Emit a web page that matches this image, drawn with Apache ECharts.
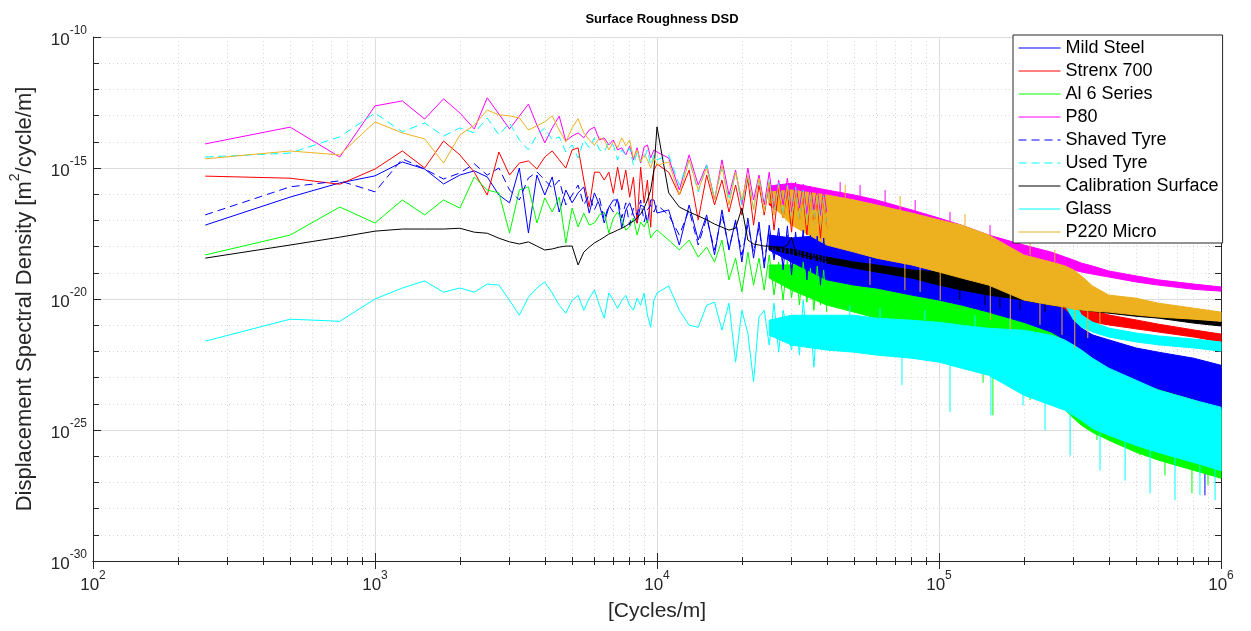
<!DOCTYPE html>
<html>
<head>
<meta charset="utf-8">
<script src="https://cdn.jsdelivr.net/npm/echarts@6/dist/echarts.min.js"></script>
<style>
  html, body { margin: 0; padding: 0; background: #ffffff; }
  #chart { width: 1251px; height: 631px; }
</style>
</head>
<body>
<div id="chart"></div>
<script>
// ---------------------------------------------------------------
// Surface roughness displacement spectral density (DSD) curves.
// All DSD values below are stored as log10(m^2/cycle/m).
// ---------------------------------------------------------------

// Spatial frequency grid of the traced curves (cycles/m)
const traceFreq = [250, 500, 750, 1000, 1250, 1500, 1750, 2000, 2250, 2500,
  2750, 3000, 3250, 3500, 3750, 4000, 4250, 4500, 4750, 5000,
  5250, 5500, 5750, 6000, 6250, 6500, 6750, 7000, 7250, 7500,
  7750, 8000, 8250, 8500, 8750, 9000, 9250, 9500, 9750, 10000,
  11000, 12000, 13000, 14000, 15000, 16000, 17000, 18000, 19000, 20000,
  21000, 22000, 23000, 24000, 25000, 26000, 27000, 28000, 29000, 30000,
  31000, 32000, 33000, 34000, 35000, 36000, 37000, 38000, 39000, 40000];

// Frequencies at which the dense high-frequency scatter band is bounded
const bandFreq = [25000, 30000, 40000, 50000, 60000, 80000, 100000, 120000, 150000, 200000, 250000,
  280000, 300000, 320000, 350000, 400000, 500000, 600000, 800000, 1000000];

// Axis decades (exponents)
const xTickExp = [2, 3, 4, 5, 6];
const yTickExp = [-30, -25, -20, -15, -10];

// ---- Mild Steel ----
const mildSteelTrace = [-17.18, -16.11, -15.57, -15.30, -14.77, -15.04, -15.61, -15.27, -15.11, -15.34,
  -16.03, -16.33, -15.00, -17.48, -15.27, -16.03, -15.34, -16.68, -15.84, -16.33,
  -15.95, -15.72, -16.72, -15.95, -16.41, -17.10, -16.49, -16.22, -16.22, -17.29,
  -16.60, -16.33, -16.79, -17.10, -16.41, -16.49, -17.10, -16.22, -16.22, -16.72,
  -16.60, -17.94, -16.41, -17.75, -16.79, -18.32, -16.60, -18.13, -16.98, -18.59,
  -16.91, -18.44, -17.06, -18.82, -17.18, -18.51, -17.29, -18.89, -17.21, -19.08,
  -17.44, -18.70, -17.37, -19.27, -17.56, -18.89, -17.60, -19.47, -17.67, -19.08];
const mildSteelHi = [-17.56, -17.67, -17.56, -17.67, -17.82, -18.13, -18.44, -18.70, -19.08, -19.66, -20.04,
  -20.42, -20.80, -21.18, -21.37, -21.56, -21.87, -22.03, -22.26, -22.53];
const mildSteelLo = [-18.13, -18.59, -19.47, -19.66, -19.77, -20.04, -20.23, -20.42, -20.73, -21.18, -21.56,
  -21.95, -22.33, -22.64, -22.91, -23.17, -23.48, -23.67, -23.94, -24.24];
const mildSteelSpikes = [[56900, -19.66, -20.80], [92900, -20.04, -21.37], [164400, -20.61, -21.95],
  [237700, -21.18, -23.28], [308000, -21.75, -23.86], [438200, -22.90, -24.62],
  [716000, -23.67, -25.00], [877000, -24.24, -27.49]];

// ---- Strenx 700 ----
const strenxTrace = [-15.31, -15.39, -15.62, -15.04, -14.35, -15.00, -13.97, -14.50, -15.16, -16.03,
  -14.39, -15.27, -14.81, -14.73, -15.04, -14.58, -14.35, -14.69, -15.00, -14.31,
  -14.23, -15.46, -16.49, -15.16, -15.16, -15.46, -15.16, -15.96, -14.97, -15.84,
  -15.08, -16.11, -15.35, -17.11, -14.97, -16.34, -15.46, -17.26, -15.08, -14.85,
  -15.16, -16.03, -15.08, -16.98, -15.27, -16.41, -15.46, -16.68, -15.65, -16.80,
  -15.39, -17.18, -15.65, -16.80, -15.58, -17.37, -15.77, -16.91, -15.84, -17.45,
  -15.84, -16.98, -16.03, -17.56, -15.96, -17.18, -16.15, -17.68, -16.07, -17.30];
const strenxHi = [-16.03, -16.03, -16.03, -16.22, -16.41, -16.72, -17.07, -17.30, -17.68, -18.13, -18.59,
  -18.89, -19.47, -20.04, -20.42, -20.61, -20.80, -20.96, -21.18, -21.34];
const strenxLo = [-16.41, -16.98, -17.75, -18.06, -18.21, -18.51, -18.82, -19.09, -19.40, -19.85, -20.23,
  -20.42, -20.65, -20.80, -20.88, -20.99, -21.14, -21.26, -21.45, -21.64];

// ---- Al 6 Series ----
const alTrace = [-18.32, -17.56, -16.49, -17.10, -16.22, -16.79, -16.22, -16.53, -15.34, -15.84,
  -15.95, -17.48, -15.84, -15.72, -17.10, -16.14, -16.68, -16.11, -17.87, -16.53,
  -17.25, -16.72, -17.18, -17.10, -16.79, -16.68, -17.48, -16.91, -16.68, -16.98,
  -17.37, -17.25, -16.91, -17.56, -17.06, -17.25, -16.98, -17.67, -17.48, -17.37,
  -17.75, -18.13, -17.75, -18.40, -18.02, -18.59, -17.75, -19.27, -18.44, -19.73,
  -18.21, -19.47, -18.44, -19.66, -18.32, -19.85, -18.59, -20.04, -18.51, -19.96,
  -18.70, -20.23, -18.59, -20.12, -18.82, -20.43, -18.74, -20.23, -18.89, -20.50];
const alHi = [-18.70, -18.70, -18.32, -18.51, -18.70, -18.97, -19.27, -19.58, -19.96, -20.61, -21.18,
  -21.56, -21.87, -22.14, -22.41, -22.71, -23.17, -23.47, -23.86, -24.24];
const alLo = [-19.20, -19.66, -20.23, -20.50, -20.73, -21.00, -21.37, -21.75, -22.33, -23.28, -23.86,
  -24.24, -24.55, -24.82, -25.09, -25.39, -25.85, -26.15, -26.54, -26.84];
const alSpikes = [[61800, -20.04, -21.56], [103300, -20.80, -22.44], [143300, -21.56, -23.20],
  [155300, -21.75, -24.44], [210400, -22.33, -23.86], [363300, -23.09, -25.38],
  [516000, -23.86, -25.97], [632700, -24.24, -26.73], [788800, -24.62, -27.41],
  [899200, -24.82, -27.11]];

// ---- P80 ----
const p80Trace = [-14.08, -13.44, -14.58, -12.63, -12.44, -13.13, -12.36, -12.90, -13.51, -12.32,
  -12.94, -13.51, -13.02, -12.56, -13.36, -14.04, -13.47, -13.02, -13.97, -13.78,
  -13.66, -13.85, -13.55, -13.44, -13.93, -13.85, -14.12, -13.93, -14.31, -14.23,
  -14.50, -14.16, -14.69, -14.23, -14.81, -14.20, -14.12, -14.62, -14.31, -14.39,
  -14.62, -15.84, -14.50, -15.65, -14.88, -16.22, -14.69, -16.03, -15.08, -16.41,
  -15.00, -16.22, -15.27, -16.41, -15.16, -16.60, -15.46, -16.41, -15.39, -16.68,
  -15.54, -16.53, -15.62, -16.76, -15.69, -16.60, -15.77, -16.80, -15.84, -16.68];
const p80Hi = [-15.69, -15.58, -15.84, -16.03, -16.22, -16.60, -16.91, -17.18, -17.56, -17.94, -18.21,
  -18.40, -18.51, -18.63, -18.74, -18.93, -19.12, -19.27, -19.43, -19.54];
const p80Lo = [-16.07, -16.41, -16.80, -17.07, -17.22, -17.49, -17.75, -17.98, -18.21, -18.51, -18.74,
  -18.82, -18.89, -18.97, -19.05, -19.16, -19.35, -19.47, -19.63, -19.70];
const p80Spikes = [[44600, -16.03, -15.54], [52500, -16.14, -15.65], [64400, -16.30, -15.84],
  [82300, -16.68, -16.22], [109400, -17.06, -16.68], [151700, -17.60, -17.18],
  [193600, -17.94, -17.60]];

// ---- Shaved Tyre ----
const shavedTrace = [-16.79, -15.72, -15.49, -15.91, -14.65, -15.04, -15.42, -15.19, -14.84, -15.27,
  -15.00, -15.84, -16.22, -15.38, -15.15, -15.46, -15.76, -15.46, -16.41, -16.03,
  -15.65, -16.41, -16.03, -16.60, -16.14, -16.98, -16.41, -16.68, -16.14, -16.91,
  -16.33, -17.18, -16.53, -16.79, -16.22, -17.06, -16.60, -16.41, -16.68, -16.41,
  -16.79, -17.56, -16.60, -17.94, -16.91, -18.13, -16.79, -18.06, -17.06, -18.32,
  -17.18, -18.21, -17.29, -18.59, -17.37, -18.44, -17.44, -18.70, -17.52, -18.82,
  -17.60, -18.59, -17.67, -18.97, -17.75, -18.74, -17.83, -19.08, -17.90, -18.89];
const shavedHi = [-17.67, -17.75, -17.75, -17.86, -17.98, -18.28, -18.59, -18.82, -19.16, -19.73, -20.11,
  -20.42, -20.73, -21.11, -21.37, -21.64, -21.95, -22.14, -22.41, -22.64];
const shavedLo = [-18.13, -18.59, -19.27, -19.47, -19.58, -19.85, -20.04, -20.23, -20.50, -20.89, -21.26,
  -21.56, -21.95, -22.33, -22.64, -22.83, -23.10, -23.29, -23.48, -23.67];

// ---- Used Tyre ----
const usedTrace = [-14.58, -14.43, -13.81, -12.90, -13.62, -13.28, -13.78, -13.47, -13.66, -13.09,
  -13.74, -13.28, -13.93, -14.31, -13.74, -13.47, -13.93, -13.81, -14.39, -14.12,
  -14.62, -13.93, -14.23, -13.85, -14.31, -14.39, -14.00, -14.12, -14.69, -14.31,
  -14.50, -14.23, -14.89, -14.39, -14.77, -14.62, -14.31, -14.89, -14.50, -14.69,
  -14.50, -15.65, -14.69, -15.92, -14.89, -16.15, -15.00, -16.22, -15.16, -16.41,
  -15.27, -16.53, -15.39, -16.60, -15.46, -16.68, -15.58, -16.80, -15.65, -16.91,
  -15.73, -16.98, -15.84, -17.07, -15.92, -17.18, -16.00, -17.22, -16.07, -17.30];
const usedHi = [-15.92, -16.03, -16.41, -16.60, -16.80, -17.07, -17.37, -17.60, -17.90, -18.36, -18.74,
  -19.09, -20.04, -20.61, -20.88, -21.11, -21.30, -21.41, -21.53, -21.64];
const usedLo = [-16.22, -16.79, -17.56, -17.75, -17.94, -18.21, -18.51, -18.74, -19.05, -19.47, -19.85,
  -20.23, -20.80, -21.07, -21.26, -21.45, -21.64, -21.75, -21.87, -21.99];

// ---- Calibration Surface ----
const calibTrace = [-18.44, -17.94, -17.64, -17.41, -17.33, -17.33, -17.33, -17.30, -17.45, -17.49,
  -17.68, -17.82, -17.90, -17.82, -17.98, -18.13, -18.09, -18.02, -17.98, -17.98,
  -18.70, -18.21, -18.02, -17.86, -17.75, -17.64, -17.52, -17.45, -17.37, -17.30,
  -17.22, -17.11, -17.03, -16.91, -16.75, -16.53, -16.22, -15.84, -15.07, -13.43,
  -15.95, -16.49, -16.68, -16.83, -16.98, -17.14, -17.26, -17.37, -17.30, -16.53,
  -17.75, -17.90, -17.94, -17.98, -17.98, -18.02, -18.02, -18.02, -17.94, -17.64,
  -18.21, -18.29, -18.32, -18.36, -18.40, -18.40, -18.44, -18.48, -18.52, -18.52];
const calibHi = [-17.98, -18.09, -18.40, -18.59, -18.70, -18.89, -18.97, -19.08, -19.20, -19.47, -19.74,
  -19.81, -19.97, -20.20, -20.31, -20.39, -20.51, -20.58, -20.77, -20.88];
const calibLo = [-18.09, -18.29, -18.63, -18.82, -18.97, -19.20, -19.47, -19.66, -19.85, -20.04, -20.23,
  -20.31, -20.35, -20.43, -20.47, -20.54, -20.66, -20.73, -20.92, -21.03];
const calibSpikes = [[118500, -19.27, -20.04], [145500, -19.39, -20.24], [164400, -19.47, -20.35],
  [193600, -19.58, -20.43], [237700, -19.85, -20.50]];

// ---- Glass ----
const glassTrace = [-21.61, -20.77, -20.85, -20.00, -19.58, -19.31, -19.74, -19.58, -19.74, -19.43,
  -19.47, -20.05, -20.62, -19.93, -19.58, -19.35, -19.77, -20.24, -20.54, -20.05,
  -19.86, -20.43, -19.97, -19.66, -20.24, -20.73, -19.77, -20.05, -20.36, -20.05,
  -19.86, -20.24, -20.43, -19.97, -20.24, -19.77, -20.62, -21.08, -20.05, -19.77,
  -19.50, -20.43, -21.00, -21.08, -20.24, -20.12, -21.19, -20.16, -22.41, -20.43,
  -21.31, -23.16, -20.69, -20.43, -21.76, -20.16, -22.03, -20.43, -21.19, -21.95,
  -20.69, -22.14, -20.05, -21.57, -20.81, -22.60, -20.73, -21.76, -21.00, -21.95];
const glassHi = [-20.81, -20.62, -20.62, -20.62, -20.73, -20.81, -20.89, -21.00, -21.12, -21.19, -21.38,
  -21.57, -21.76, -21.95, -22.26, -22.64, -23.10, -23.48, -23.86, -24.13];
const glassLo = [-21.38, -21.76, -21.95, -22.03, -22.14, -22.26, -22.41, -22.64, -22.91, -23.67, -24.06,
  -24.25, -24.44, -24.63, -24.94, -25.20, -25.59, -25.86, -26.24, -26.55];
const glassSpikes = [[73900, -21.95, -23.29], [109400, -22.33, -24.32], [152800, -22.71, -24.44],
  [198600, -23.10, -24.06], [237700, -23.48, -25.00], [291600, -23.86, -25.97],
  [372400, -24.63, -26.55], [457000, -25.00, -26.93], [560300, -25.39, -27.42],
  [686900, -25.77, -27.68], [842000, -25.97, -27.48], [952700, -26.15, -27.68],
  [48300, -20.62, -20.24], [61800, -20.73, -20.35], [89100, -20.81, -20.43],
  [134300, -21.04, -20.62], [178600, -21.19, -20.73]];

// ---- P220 Micro ----
const p220Trace = [-14.65, -14.35, -14.50, -13.24, -13.66, -13.89, -14.81, -13.74, -13.36, -12.79,
  -12.97, -13.01, -13.09, -13.55, -13.39, -13.24, -13.01, -13.55, -14.00, -13.47,
  -13.12, -13.66, -13.93, -14.12, -13.85, -13.93, -14.31, -14.00, -14.23, -13.85,
  -14.16, -13.93, -14.62, -14.31, -14.77, -14.50, -14.69, -15.00, -14.62, -14.89,
  -14.77, -16.03, -14.69, -15.84, -15.00, -16.22, -14.89, -16.41, -15.16, -16.22,
  -15.27, -16.60, -15.39, -16.68, -15.54, -16.80, -15.65, -16.91, -15.69, -16.98,
  -15.84, -17.07, -15.92, -17.18, -15.96, -17.22, -16.03, -17.30, -16.11, -17.37];
const p220Hi = [-15.92, -15.84, -16.03, -16.22, -16.41, -16.72, -16.98, -17.18, -17.56, -18.32, -18.59,
  -18.74, -18.89, -19.12, -19.50, -19.85, -19.97, -20.16, -20.35, -20.50];
const p220Lo = [-16.30, -17.18, -17.94, -18.21, -18.44, -18.70, -18.97, -19.20, -19.47, -20.04, -20.23,
  -20.31, -20.39, -20.42, -20.46, -20.50, -20.61, -20.69, -20.77, -20.85];
const p220Spikes = [[56900, -18.44, -19.47], [75700, -18.59, -19.66], [85700, -18.70, -19.73],
  [101000, -18.97, -20.04], [152000, -19.47, -20.80], [179000, -19.66, -21.18],
  [228000, -20.04, -20.99], [273000, -20.23, -21.37], [303000, -20.35, -21.87],
  [337000, -20.46, -21.49], [372000, -20.46, -20.99],
  [46500, -16.14, -15.65], [72800, -16.68, -16.07], [123600, -17.29, -16.75],
  [210400, -18.32, -17.75], [257500, -18.59, -18.13]];

// Draw order follows the legend order (later entries on top)
const materials = [
  { name: 'Mild Steel', color: '#0000ff', dash: 'solid', trace: mildSteelTrace, hi: mildSteelHi, lo: mildSteelLo, spikes: mildSteelSpikes },
  { name: 'Strenx 700', color: '#ff0000', dash: 'solid', trace: strenxTrace, hi: strenxHi, lo: strenxLo, spikes: [] },
  { name: 'Al 6 Series', color: '#00ff00', dash: 'solid', trace: alTrace, hi: alHi, lo: alLo, spikes: alSpikes },
  { name: 'P80', color: '#ff00ff', dash: 'solid', trace: p80Trace, hi: p80Hi, lo: p80Lo, spikes: p80Spikes },
  { name: 'Shaved Tyre', color: '#0000ff', dash: [8, 5], trace: shavedTrace, hi: shavedHi, lo: shavedLo, spikes: [] },
  { name: 'Used Tyre', color: '#00ffff', dash: [8, 5], trace: usedTrace, hi: usedHi, lo: usedLo, spikes: [] },
  { name: 'Calibration Surface', color: '#000000', dash: 'solid', trace: calibTrace, hi: calibHi, lo: calibLo, spikes: calibSpikes },
  { name: 'Glass', color: '#00ffff', dash: 'solid', trace: glassTrace, hi: glassHi, lo: glassLo, spikes: glassSpikes },
  { name: 'P220 Micro', color: '#edb120', dash: 'solid', trace: p220Trace, hi: p220Hi, lo: p220Lo, spikes: p220Spikes }
];

const pow10 = (e) => Math.pow(10, e);
const FONT = '"Liberation Sans", Arial, Helvetica, sans-serif';
const INK = '#262626';

function bandRenderer(rows, color) {
  return function (params, api) {
    if (params.dataIndex !== 0) return null;
    const upper = rows.map(r => api.coord([r[0], r[2]]));
    const lower = rows.map(r => api.coord([r[0], r[1]])).reverse();
    return {
      type: 'polygon',
      shape: { points: upper.concat(lower) },
      style: { fill: color, stroke: color, lineWidth: 1 }
    };
  };
}

function spikeRenderer(color) {
  return function (params, api) {
    const a = api.coord([api.value(0), api.value(1)]);
    const b = api.coord([api.value(0), api.value(2)]);
    return {
      type: 'line',
      shape: { x1: a[0], y1: a[1], x2: b[0], y2: b[1] },
      style: { stroke: color, lineWidth: 1 }
    };
  };
}

const series = [];
materials.forEach(m => {
  series.push({
    name: m.name,
    type: 'line',
    data: traceFreq.map((f, i) => [f, pow10(m.trace[i])]),
    showSymbol: false,
    symbol: 'none',
    lineStyle: { color: m.color, width: 1, type: m.dash },
    itemStyle: { color: m.color },
    emphasis: { disabled: true },
    silent: true
  });
  const rows = bandFreq.map((f, i) => [f, pow10(m.lo[i]), pow10(m.hi[i])]);
  series.push({
    name: m.name,
    type: 'custom',
    data: rows,
    encode: { x: 0, y: [1, 2] },
    renderItem: bandRenderer(rows, m.color),
    silent: true
  });
  if (m.spikes.length) {
    series.push({
      name: m.name,
      type: 'custom',
      data: m.spikes.map(s => [s[0], pow10(s[1]), pow10(s[2])]),
      encode: { x: 0, y: [1, 2] },
      renderItem: spikeRenderer(m.color),
      silent: true
    });
  }
});

const expLabel = (v) => '{b|10}{e|' + Math.round(Math.log10(v)) + '}';
const labelRich = {
  b: { fontSize: 17, fontFamily: FONT, color: INK, verticalAlign: 'bottom', padding: [7, 0, 0, 0] },
  e: { fontSize: 12, fontFamily: FONT, color: INK, verticalAlign: 'top' }
};

const xMin = pow10(xTickExp[0]);
const xMax = pow10(xTickExp[xTickExp.length - 1]);
const yMin = pow10(yTickExp[0]);
const yMax = pow10(yTickExp[yTickExp.length - 1]);
const yLabelValues = yTickExp.map(pow10);

const option = {
  animation: false,
  backgroundColor: '#ffffff',
  title: {
    text: 'Surface Roughness DSD',
    left: 657,
    textAlign: 'center',
    top: 8,
    textStyle: { fontFamily: FONT, fontSize: 13, fontWeight: 'bold', color: '#000000' }
  },
  legend: {
    data: materials.map(m => m.name),
    orient: 'vertical',
    left: 1013,
    top: 35,
    itemWidth: 42,
    itemHeight: 14,
    itemGap: 5,
    padding: [4, 4, 2, 5],
    backgroundColor: '#ffffff',
    borderColor: INK,
    borderWidth: 1,
    borderRadius: 0,
    selectedMode: false,
    itemStyle: { opacity: 0 },
    lineStyle: { width: 1 },
    textStyle: { fontFamily: FONT, fontSize: 18, lineHeight: 18, color: '#000000' }
  },
  grid: { left: 93, right: 30, top: 37, bottom: 70, containLabel: false, outerBoundsMode: 'none' },
  xAxis: [
    {
      type: 'log', logBase: 10, min: xMin, max: xMax, position: 'bottom',
      axisLine: { show: true, lineStyle: { color: INK, width: 1 } },
      axisTick: { show: true, inside: true, length: 8, lineStyle: { color: INK } },
      minorTick: { show: true, splitNumber: 9, length: 4, lineStyle: { color: INK } },
      splitLine: { show: true, lineStyle: { color: '#dedede', width: 1 } },
      minorSplitLine: { show: true, lineStyle: { color: '#d6d6d6', width: 1, type: [1, 3] } },
      axisLabel: { formatter: expLabel, rich: labelRich, margin: 9, showMinLabel: true, showMaxLabel: true },
      name: '[Cycles/m]', nameLocation: 'middle', nameGap: 40, nameMoveOverlap: false,
      nameTextStyle: { fontFamily: FONT, fontSize: 21, color: INK }
    },
    {
      type: 'log', logBase: 10, min: xMin, max: xMax, position: 'top',
      axisLine: { show: true, lineStyle: { color: INK, width: 1 } },
      axisTick: { show: true, inside: true, length: 8, lineStyle: { color: INK } },
      minorTick: { show: true, splitNumber: 9, length: 4, lineStyle: { color: INK } },
      splitLine: { show: false },
      axisLabel: { show: false }
    }
  ],
  yAxis: [
    {
      type: 'log', logBase: 10, min: yMin, max: yMax, interval: 5, position: 'left',
      axisLine: { show: true, lineStyle: { color: INK, width: 1 } },
      axisTick: { show: true, inside: true, length: 8, lineStyle: { color: INK }, customValues: yLabelValues },
      splitLine: { show: true, lineStyle: { color: '#dedede', width: 1 } },
      axisLabel: {
        formatter: expLabel, rich: labelRich, margin: 6, customValues: yLabelValues,
        showMinLabel: true, showMaxLabel: true, hideOverlap: false
      },
      name: '{n|Displacement Spectral Density [m}{s|2}{n|/cycle/m]}',
      nameLocation: 'middle', nameGap: 57, nameMoveOverlap: false, nameRotate: 90,
      nameTextStyle: {
        fontFamily: FONT, fontSize: 22, color: INK,
        rich: {
          n: { fontFamily: FONT, fontSize: 22, color: INK, verticalAlign: 'bottom', padding: [6, 0, 0, 0] },
          s: { fontFamily: FONT, fontSize: 14, color: INK, verticalAlign: 'top' }
        }
      }
    },
    {
      type: 'log', logBase: 10, min: yMin, max: yMax, interval: 1, position: 'right',
      axisLine: { show: true, lineStyle: { color: INK, width: 1 } },
      axisTick: { show: true, inside: true, length: 6, lineStyle: { color: INK } },
      splitLine: { show: true, lineStyle: { color: '#d6d6d6', width: 1, type: [1, 3] } },
      axisLabel: { show: false }
    },
    {
      type: 'log', logBase: 10, min: yMin, max: yMax, interval: 1, position: 'left',
      axisLine: { show: false },
      axisTick: { show: true, inside: true, length: 6, lineStyle: { color: INK } },
      splitLine: { show: false },
      axisLabel: { show: false }
    }
  ],
  series: series
};

const chart = echarts.init(document.getElementById('chart'), null, { renderer: 'canvas' });
chart.setOption(option);
</script>
</body>
</html>
